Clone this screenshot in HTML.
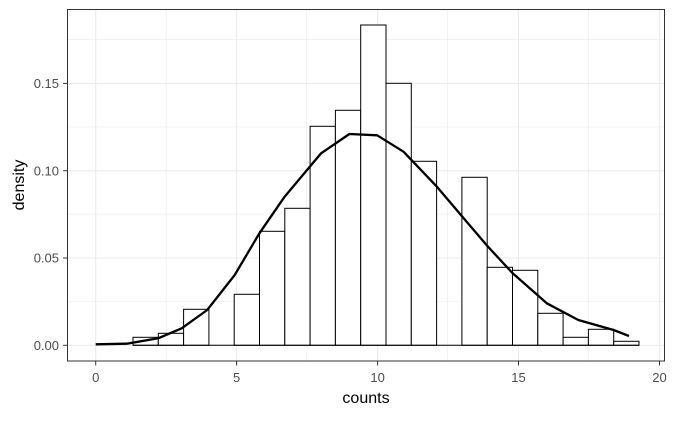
<!DOCTYPE html><html><head><style>body{margin:0;background:#fff}</style></head><body>
<svg width="673" height="416" xmlns="http://www.w3.org/2000/svg" font-family="Liberation Sans, sans-serif">
<rect width="673" height="416" fill="#fff"/>
<g stroke="#ebebeb" stroke-width="0.6">
<line x1="67.5" x2="664.5" y1="301.5" y2="301.5"/><line x1="67.5" x2="664.5" y1="214.2" y2="214.2"/><line x1="67.5" x2="664.5" y1="126.9" y2="126.9"/><line x1="67.5" x2="664.5" y1="39.6" y2="39.6"/>
<line y1="9.5" y2="361" x1="166.2" x2="166.2"/><line y1="9.5" y2="361" x1="306.7" x2="306.7"/><line y1="9.5" y2="361" x1="447.6" x2="447.6"/><line y1="9.5" y2="361" x1="588.5" x2="588.5"/>
</g>
<g stroke="#ebebeb" stroke-width="1.1">
<line x1="67.5" x2="664.5" y1="345.3" y2="345.3"/><line x1="67.5" x2="664.5" y1="258" y2="258"/><line x1="67.5" x2="664.5" y1="170.7" y2="170.7"/><line x1="67.5" x2="664.5" y1="83.4" y2="83.4"/>
<line y1="9.5" y2="361" x1="95.7" x2="95.7"/><line y1="9.5" y2="361" x1="236.6" x2="236.6"/><line y1="9.5" y2="361" x1="377.6" x2="377.6"/><line y1="9.5" y2="361" x1="518.5" x2="518.5"/><line y1="9.5" y2="361" x1="659.5" x2="659.5"/>
</g>
<g fill="#fff" stroke="#000" stroke-width="1">
<rect x="133" y="337.3" width="25.3" height="8"/>
<rect x="158.3" y="333.3" width="25.3" height="12"/>
<rect x="183.6" y="309.3" width="25.3" height="36"/>
<rect x="234.2" y="294.3" width="25.3" height="51"/>
<rect x="259.5" y="231.3" width="25.3" height="114"/>
<rect x="284.8" y="208.3" width="25.3" height="137"/>
<rect x="310.1" y="126.3" width="25.3" height="219"/>
<rect x="335.4" y="110.3" width="25.3" height="235"/>
<rect x="360.7" y="25" width="25.3" height="320.3"/>
<rect x="386" y="83.3" width="25.3" height="262"/>
<rect x="411.3" y="161.3" width="25.3" height="184"/>
<rect x="461.9" y="177.3" width="25.3" height="168"/>
<rect x="487.2" y="267.3" width="25.3" height="78"/>
<rect x="512.5" y="270.3" width="25.3" height="75"/>
<rect x="537.8" y="313.3" width="25.3" height="32"/>
<rect x="563.1" y="337.3" width="25.3" height="8"/>
<rect x="588.4" y="329.3" width="25.3" height="16"/>
<rect x="613.7" y="341.3" width="25.3" height="4"/>
<line x1="133" x2="639" y1="345.3" y2="345.3"/>
</g>
<polyline fill="none" stroke="#000" stroke-width="2.3" stroke-linejoin="round" points="95.7,344.3 126.7,343.7 158.2,338.3 181.7,328.3 207.2,310 234.7,275 259.4,233.3 284.6,196.7 321.1,153.3 349.4,134 377.2,135.3 403.5,151.7 436.9,186.7 462.4,216.7 488,246.7 512.7,273.3 546.8,303.3 578.3,320 613.6,330 629,336"/>
<rect x="67.5" y="9.5" width="597" height="351.5" fill="none" stroke="#333" stroke-width="1"/>
<g stroke="#333" stroke-width="1">
<line x1="63" x2="67.5" y1="345.3" y2="345.3"/><line x1="63" x2="67.5" y1="258" y2="258"/><line x1="63" x2="67.5" y1="170.7" y2="170.7"/><line x1="63" x2="67.5" y1="83.4" y2="83.4"/>
<line y1="361" y2="365.5" x1="95.7" x2="95.7"/><line y1="361" y2="365.5" x1="236.6" x2="236.6"/><line y1="361" y2="365.5" x1="377.6" x2="377.6"/><line y1="361" y2="365.5" x1="518.5" x2="518.5"/><line y1="361" y2="365.5" x1="659.5" x2="659.5"/>
</g>
<g fill="#4d4d4d" font-size="13" text-anchor="end">
<text x="59" y="350">0.00</text><text x="59" y="262.7">0.05</text><text x="59" y="175.4">0.10</text><text x="59" y="88.1">0.15</text>
</g>
<g fill="#4d4d4d" font-size="13" text-anchor="middle">
<text x="95.7" y="382">0</text><text x="236.6" y="382">5</text><text x="377.6" y="382">10</text><text x="518.5" y="382">15</text><text x="659.5" y="382">20</text>
</g>
<text x="366" y="403" font-size="16" text-anchor="middle">counts</text>
<text transform="translate(24,185) rotate(-90)" font-size="16" text-anchor="middle">density</text>
</svg>
</body></html>
